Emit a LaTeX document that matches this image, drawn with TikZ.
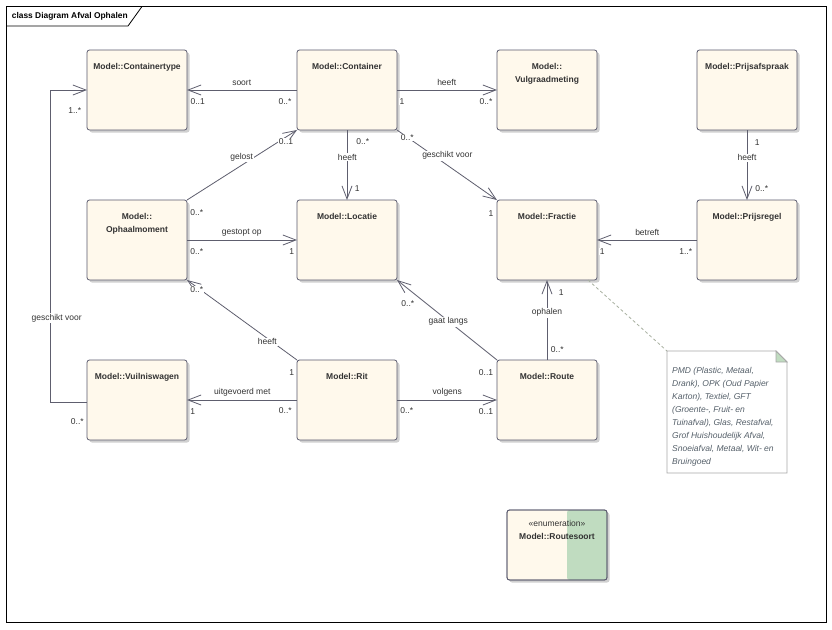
\documentclass[tikz,border=0pt]{standalone}
\usepackage{fontspec}
\setmainfont{Liberation Sans}
\usetikzlibrary{arrows.meta,shadows,calc}
\definecolor{txt}{HTML}{333333}
\definecolor{edge}{HTML}{5E5E6E}
\definecolor{boxfill}{HTML}{FFF9EC}
\definecolor{boxline}{HTML}{5A5A6E}
\definecolor{enumgreen}{HTML}{C0DCC0}
\definecolor{notetxt}{HTML}{55606A}
\definecolor{noteline}{HTML}{A8A8A8}
\definecolor{notelink}{HTML}{A8B0A0}
\begin{document}
\begin{tikzpicture}[x=1pt,y=-1pt,
  cls/.style={draw=boxline, fill=boxfill, rounded corners=2.5pt, minimum width=100pt, minimum height=80pt, inner sep=0pt, outer sep=0pt, anchor=north west, line width=0.8pt, drop shadow={shadow xshift=2.5pt, shadow yshift=-2.5pt, fill=black!30, opacity=0.6}},
  ttl/.style={font=\fontsize{8.5}{13}\selectfont\bfseries, text=txt, align=center, anchor=north, inner sep=0pt},
  assoc/.style={draw=edge, line width=0.8pt, -{Straight Barb[length=13pt,width=10pt]}},
  lbl/.style={font=\fontsize{8.5}{10}\selectfont, text=txt, fill=white, inner sep=1pt},
  mult/.style={font=\fontsize{8.5}{10}\selectfont, text=txt, fill=white, inner sep=0.6pt},
]
\useasboundingbox (0,0) rectangle (832,629);
\fill[white] (0,0) rectangle (832,629);

% frame
\draw[black, line width=0.8pt] (6.5,6.5) rectangle (826.5,622.5);
\draw[black, line width=0.8pt] (6.5,26) -- (128,26) -- (142,6.5);
\node[anchor=west, font=\fontsize{8.4}{10}\selectfont\bfseries, text=black, inner sep=0pt] (hdr) at (11.7,16) {class Diagram Afval Ophalen};

% classes
\node[cls] (ct) at (87,50) {};
\node[cls] (cont) at (297,50) {};
\node[cls] (vgm) at (497,50) {};
\node[cls] (pa) at (697,50) {};
\node[cls] (om) at (87,200) {};
\node[cls] (loc) at (297,200) {};
\node[cls] (fr) at (497,200) {};
\node[cls] (pr) at (697,200) {};
\node[cls] (vw) at (87,360) {};
\node[cls] (rit) at (297,360) {};
\node[cls] (route) at (497,360) {};
\node[cls, minimum height=70pt, path picture={\fill[enumgreen] ([xshift=-40pt]path picture bounding box.north east) rectangle (path picture bounding box.south east);}] (rs) at (507,510) {};
\draw[boxline, line width=0.8pt, rounded corners=2.5pt] (rs.north west) rectangle (rs.south east);

\node[ttl] at ([yshift=-13pt]ct.north) {Model::Containertype};
\node[ttl] at ([yshift=-13pt]cont.north) {Model::Container};
\node[ttl] at ([yshift=-13pt]vgm.north) {Model::\\Vulgraadmeting};
\node[ttl] at ([yshift=-13pt]pa.north) {Model::Prijsafspraak};
\node[ttl] at ([yshift=-13pt]om.north) {Model::\\Ophaalmoment};
\node[ttl] at ([yshift=-13pt]loc.north) {Model::Locatie};
\node[ttl] at ([yshift=-13pt]fr.north) {Model::Fractie};
\node[ttl] at ([yshift=-13pt]pr.north) {Model::Prijsregel};
\node[ttl] at ([yshift=-13pt]vw.north) {Model::Vuilniswagen};
\node[ttl] at ([yshift=-13pt]rit.north) {Model::Rit};
\node[ttl] at ([yshift=-13pt]route.north) {Model::Route};
\node[mult, fill=none] at (557,523) {«enumeration»};
\node[ttl] at ([yshift=-23pt]rs.north) {Model::Routesoort};

% note
\node[minimum width=120pt, minimum height=122pt, anchor=north west, inner sep=0pt, outer sep=0pt] (note) at (667,351) {};
\draw[dash pattern=on 3pt off 2.5pt, notelink, line width=0.8pt] ([xshift=-9pt]fr.south east) -- (note.north west);
\filldraw[fill=white, draw=noteline, line width=0.8pt] (note.north west) -- ([xshift=-11pt]note.north east) -- ([yshift=-11pt]note.north east) -- (note.south east) -- (note.south west) -- cycle;
\filldraw[fill=enumgreen, draw=noteline, line width=0.8pt] ([xshift=-11pt]note.north east) -- ([xshift=-11pt,yshift=-11pt]note.north east) -- ([yshift=-11pt]note.north east) -- cycle;
\node[anchor=north west, align=left, inner sep=0pt, font=\fontsize{8.5}{13}\selectfont\itshape, text=notetxt] at (672,367.5) {PMD (Plastic, Metaal,\\Drank), OPK (Oud Papier\\Karton), Textiel, GFT\\(Groente-, Fruit- en\\Tuinafval), Glas, Restafval,\\Grof Huishoudelijk Afval,\\Snoeiafval, Metaal, Wit- en\\Bruingoed};

% associations
\draw[assoc] (cont.west) -- (ct.east);
\draw[assoc] (cont.east) -- (vgm.west);
\draw[assoc] (cont.south) -- (loc.north);
\draw[assoc] (cont.south east) -- (fr.north west);
\draw[assoc] (om.north east) -- (cont.south west);
\draw[assoc] (om.east) -- (loc.west);
\draw[assoc] (rit.north west) -- (om.south east);
\draw[assoc] (rit.west) -- (vw.east);
\draw[assoc] (rit.east) -- (route.west);
\draw[assoc] (route.north west) -- (loc.south east);
\draw[assoc] (route.north) -- (fr.south);
\draw[assoc] (pa.south) -- (pr.north);
\draw[assoc] (pr.west) -- (fr.east);
\draw[assoc] ([yshift=-2pt]vw.west) -- ++(-37,0) |- (ct.west);

% association names
\node[lbl] at (241.7,82.3) {soort};
\node[lbl] at (446.7,82.3) {heeft};
\node[lbl] at (347.3,157.3) {heeft};
\node[lbl] at (241.7,157.3) {gelost};
\node[lbl] at (447.3,155.7) {geschikt voor};
\node[lbl] at (747,157.7) {heeft};
\node[lbl] at (241.7,232.7) {gestopt op};
\node[lbl] at (647.3,232.7) {betreft};
\node[lbl] at (56.7,318.3) {geschikt voor};
\node[lbl] at (267.3,341.7) {heeft};
\node[lbl] at (448.3,321.7) {gaat langs};
\node[lbl] at (547,312.7) {ophalen};
\node[lbl] at (242.3,392.3) {uitgevoerd met};
\node[lbl] at (447.3,392.3) {volgens};

% multiplicities
\node[mult] at (197.7,101.7) {0..1};
\node[mult] at (285,101.7) {0..*};
\node[mult] at (74.7,110.5) {1..*};
\node[mult] at (402,101.7) {1};
\node[mult] at (486,101.7) {0..*};
\node[mult] at (362.7,141.7) {0..*};
\node[mult] at (357.3,189) {1};
\node[mult] at (286,141.7) {0..1};
\node[mult] at (407.3,137.3) {0..*};
\node[mult] at (491,213.3) {1};
\node[mult] at (757.3,142.3) {1};
\node[mult] at (761.7,189) {0..*};
\node[mult] at (196.7,212.7) {0..*};
\node[mult] at (196.7,251.7) {0..*};
\node[mult] at (291.7,251.7) {1};
\node[mult] at (196.7,290) {0..*};
\node[mult] at (291.7,372.7) {1};
\node[mult] at (407.8,303.6) {0..*};
\node[mult] at (192.7,411.7) {1};
\node[mult] at (285.3,411) {0..*};
\node[mult] at (77.3,421.7) {0..*};
\node[mult] at (406.7,411) {0..*};
\node[mult] at (602.3,251.7) {1};
\node[mult] at (685.7,251.7) {1..*};
\node[mult] at (561.3,292.3) {1};
\node[mult] at (557.3,350) {0..*};
\node[mult] at (486,372.3) {0..1};
\node[mult] at (486,411.7) {0..1};
\end{tikzpicture}
\end{document}
